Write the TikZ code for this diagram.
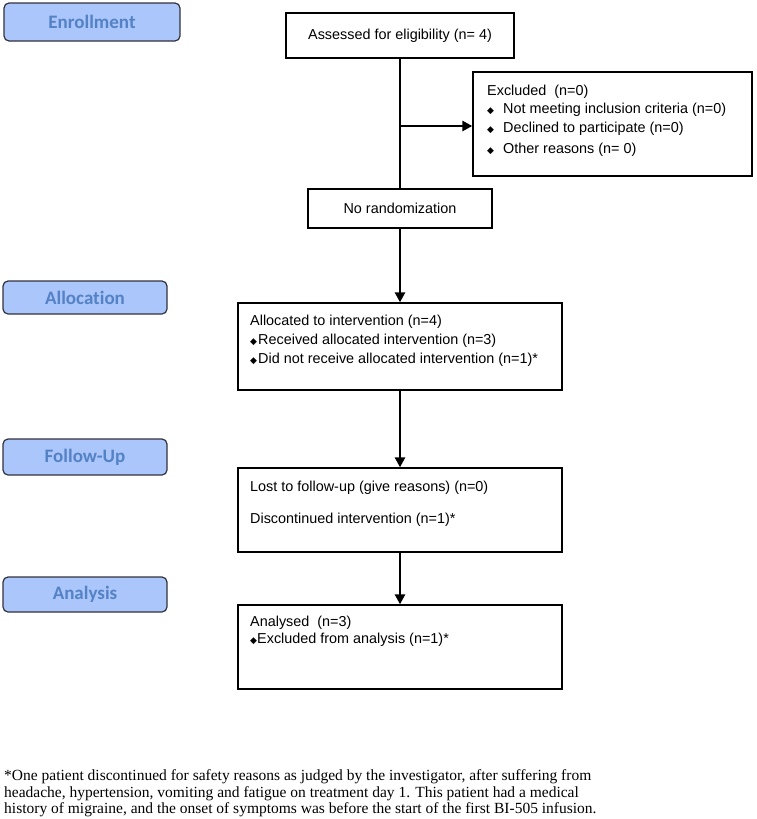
\documentclass[tikz,border=0pt]{standalone}
\usepackage{fontspec}
\setmainfont{Liberation Sans}
\newfontfamily\stagefont[Ligatures={NoCommon}]{Carlito}
\newfontfamily\notefont{Liberation Serif}
\newfontfamily\symfont{DejaVu Sans}
\usetikzlibrary{arrows.meta}
\definecolor{stagefill}{RGB}{170,198,250}
\definecolor{stagetext}{RGB}{84,130,197}
\definecolor{stageedge}{RGB}{50,50,60}
\newcommand\bul{{\symfont\fontsize{9}{9}\selectfont ◆}}
\begin{document}
\begin{tikzpicture}[x=1pt,y=-1pt,
  stage/.style={draw=stageedge, line width=1.2pt, fill=stagefill, rounded corners=5pt,
    font=\stagefont\bfseries\fontsize{19}{19}\selectfont, text=stagetext, inner sep=0pt},
  box/.style={draw=black, line width=1.3pt, fill=white, inner sep=0pt,
    font=\fontsize{14.4}{17}\selectfont},
  txt/.style={anchor=west, inner sep=0pt, font=\fontsize{14.4}{17}\selectfont,
    text height=10pt, text depth=3pt},
  conn/.style={line width=2.8pt},
  arr/.style={conn, -{Triangle[length=10pt,width=10pt]}},
  note/.style={anchor=base west, inner sep=0pt, font=\notefont\fontsize{15.5}{17}\selectfont}]
\useasboundingbox (0,0) rectangle (757,819);

% stage labels
\node[stage, minimum width=176pt, minimum height=38pt] (s1) at (92,22) {Enrollment};
\node[stage, minimum width=164pt, minimum height=33pt] (s2) at (85,297.5) {Allocation};
\node[stage, minimum width=164pt, minimum height=36pt] (s3) at (85,457) {Follow-Up};
\node[stage, minimum width=164pt, minimum height=35pt] (s4) at (85,594.5) {Analysis};

% main boxes
\node[box, minimum width=228pt, minimum height=45pt] (assess) at (400,35.5) {Assessed for eligibility (n= 4)};
\node[box, minimum width=184pt, minimum height=39pt] (norand) at (400,208.5) {No randomization};
\node[box, minimum width=279pt, minimum height=104pt] (excl) at (612.5,124) {};
\node[box, minimum width=324pt, minimum height=87pt] (alloc) at (400,346.5) {};
\node[box, minimum width=324pt, minimum height=84pt] (follow) at (400,510) {};
\node[box, minimum width=324pt, minimum height=84pt] (anal) at (400,647) {};

% box texts
\node[txt] (e0) at (487,92) {Excluded\ \ (n=0)};
\node[txt] (e1) at (487,110) {\makebox[16pt][l]{\bul}Not meeting inclusion criteria (n=0)};
\node[txt] (e2) at (487,129) {\makebox[16pt][l]{\bul}Declined to participate (n=0)};
\node[txt] (e3) at (487,150) {\makebox[16pt][l]{\bul}Other reasons (n= 0)};

\node[txt] (a0) at (250,322) {Allocated to intervention (n=4)};
\node[txt] (a1) at (250,341) {\makebox[8pt][l]{\bul}Received allocated intervention (n=3)};
\node[txt] (a2) at (250,360) {\makebox[8pt][l]{\bul}Did not receive allocated intervention (n=1)*};

\node[txt] (f0) at (250,488) {Lost to follow-up (give reasons) (n=0)};
\node[txt] (f1) at (250,520) {Discontinued intervention (n=1)*};

\node[txt] (n0) at (250,623) {Analysed\ \ (n=3)};
\node[txt] (n1) at (250,640) {\makebox[7pt][l]{\bul}Excluded from analysis (n=1)*};

% connectors
\draw[conn] (assess.south) -- (norand.north);
\coordinate (br) at (400,126);
\draw[arr] (br) -- (br -| excl.west);
\draw[arr] (norand.south) -- (alloc.north);
\draw[arr] (alloc.south) -- (follow.north);
\draw[arr] (follow.south) -- (anal.north);

% footnote
\node[note] (fn1) at (4,780) {*One patient discontinued for safety reasons as judged by the investigator, after suffering from};
\node[note] (fn2) at (4,797) {headache, hypertension, vomiting and fatigue on treatment day 1. This patient had a medical};
\node[note] (fn3) at (4,813) {history of migraine, and the onset of symptoms was before the start of the first BI-505 infusion.};
\end{tikzpicture}
\end{document}
